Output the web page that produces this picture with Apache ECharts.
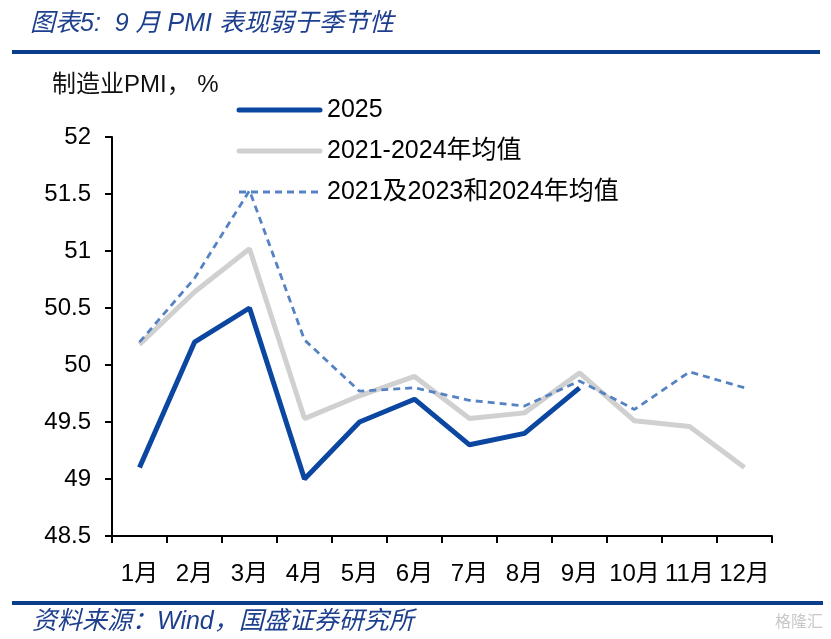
<!DOCTYPE html>
<html><head><meta charset="utf-8">
<script src="https://cdn.jsdelivr.net/npm/echarts@6/dist/echarts.min.js"></script>
<style>html,body{margin:0;padding:0;background:#fff}#c{width:831px;height:639px}</style>
</head><body><div id="c"></div>
<script>
var months = ['1月','2月','3月','4月','5月','6月','7月','8月','9月','10月','11月','12月'];
var s2025 = [49.1, 50.2, 50.5, 49.0, 49.5, 49.7, 49.3, 49.4, 49.8];
var avg2124 = [50.18, 50.64, 51.02, 49.53, 49.73, 49.9, 49.53, 49.58, 49.93, 49.51, 49.46, 49.1];
var avg212324 = [50.2, 50.76, 51.53, 50.22, 49.77, 49.8, 49.69, 49.64, 49.86, 49.61, 49.94, 49.8];
var names = ['2025', '2021-2024年均值', '2021及2023和2024年均值'];
var colors = ['#0b47a0', '#d0d0d0', '#5582c2'];
var FONT = '"Liberation Sans", Arial, "Noto Sans CJK SC", sans-serif';
var ITAL = 'italic 25px "Liberation Sans", "Noto Sans CJK SC", sans-serif';

var legendY = [110, 151, 192];
var legendGraphics = [];
names.forEach(function (n, i) {
  legendGraphics.push({
    type: 'line', z: 10,
    shape: {x1: 239, y1: legendY[i], x2: 320, y2: legendY[i]},
    style: {stroke: colors[i], lineWidth: i === 2 ? 2.8 : 5, lineCap: i === 2 ? 'butt' : 'round', lineDash: i === 2 ? [7, 5] : null}
  });
  legendGraphics.push({
    type: 'text', z: 10, x: 327, y: legendY[i],
    style: {text: n, font: '25px ' + FONT, fill: '#000', verticalAlign: 'middle'}
  });
});

var chart = echarts.init(document.getElementById('c'));
chart.setOption({
  animation: false,
  textStyle: {fontFamily: FONT},
  grid: {left: 112, right: 59, top: 137, bottom: 103, containLabel: false},
  graphic: [
    {type: 'text', x: 30, y: 24, style: {text: '图表5:  9 月 PMI 表现弱于季节性', font: ITAL, fill: '#1d3f8e', verticalAlign: 'middle'}},
    {type: 'rect', shape: {x: 12, y: 50, width: 808, height: 4}, style: {fill: '#0a3d8c'}},
    {type: 'text', x: 52, y: 85, style: {text: '制造业PMI， %', font: '24px ' + FONT, fill: '#111', verticalAlign: 'middle'}},
    {type: 'rect', shape: {x: 12, y: 601, width: 811, height: 4}, style: {fill: '#0a3d8c'}},
    {type: 'text', x: 32, y: 622, style: {text: '资料来源：Wind，国盛证券研究所', font: ITAL, fill: '#1d3f8e', verticalAlign: 'middle'}},
    {type: 'text', right: 8, top: 613, style: {text: '格隆汇', font: '16px "Noto Sans CJK SC", sans-serif', fill: '#c8c8c8'}}
  ].concat(legendGraphics),
  xAxis: {
    type: 'category', data: months, boundaryGap: true,
    axisLine: {lineStyle: {color: '#000', width: 2}},
    axisTick: {show: true, length: 7, lineStyle: {color: '#000', width: 2}},
    axisLabel: {fontSize: 24, color: '#000', margin: 26, interval: 0}
  },
  yAxis: {
    type: 'value', min: 48.5, max: 52, interval: 0.5,
    axisLine: {show: true, lineStyle: {color: '#000', width: 2}},
    axisTick: {show: true, length: 7, lineStyle: {color: '#000', width: 2}},
    splitLine: {show: false},
    axisLabel: {fontSize: 24, color: '#000', margin: 21}
  },
  series: [
    {name: names[0], type: 'line', data: s2025, symbol: 'none', z: 5,
     lineStyle: {color: colors[0], width: 5}, itemStyle: {color: colors[0]}},
    {name: names[1], type: 'line', data: avg2124, symbol: 'none', z: 3,
     lineStyle: {color: colors[1], width: 5}, itemStyle: {color: colors[1]}},
    {name: names[2], type: 'line', data: avg212324, symbol: 'none', z: 4,
     lineStyle: {color: colors[2], width: 2.8, type: [7, 5]}, itemStyle: {color: colors[2]}}
  ]
});
</script></body></html>
